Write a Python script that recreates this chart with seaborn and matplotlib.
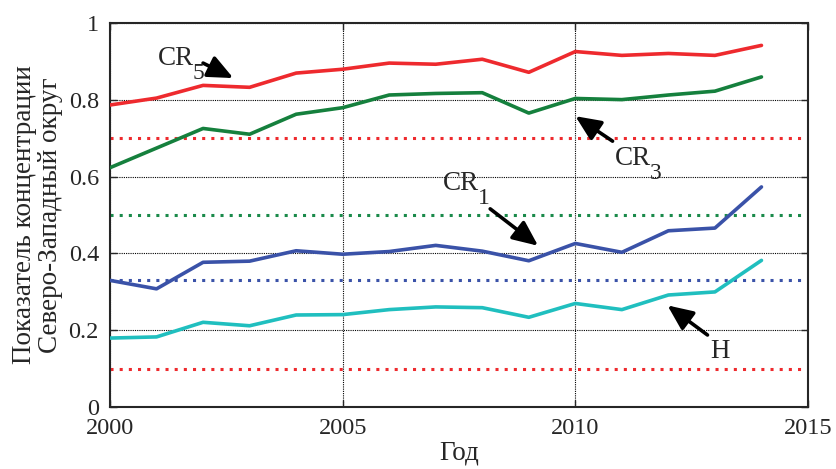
import numpy as np
import pandas as pd
import seaborn as sns
import matplotlib
matplotlib.use('Agg')
import matplotlib.pyplot as plt

# --- data ---
years = list(range(2000, 2015))
cr5 = [0.786, 0.804, 0.837, 0.832, 0.869, 0.879, 0.895, 0.892, 0.905, 0.871,
       0.925, 0.915, 0.920, 0.915, 0.941]
cr3 = [0.623, 0.674, 0.725, 0.710, 0.762, 0.779, 0.812, 0.816, 0.818, 0.765,
       0.803, 0.800, 0.812, 0.822, 0.859]
cr1 = [0.330, 0.308, 0.377, 0.380, 0.407, 0.398, 0.405, 0.421, 0.406, 0.381,
       0.426, 0.403, 0.459, 0.466, 0.573]
h_index = [0.180, 0.183, 0.221, 0.212, 0.240, 0.241, 0.254, 0.261, 0.259, 0.234,
           0.270, 0.254, 0.292, 0.300, 0.382]

# threshold levels (dotted)
thresholds = [0.7, 0.5, 0.33, 0.1]
threshold_colors = ['#ee2a2e', '#1a8a4a', '#3a52a8', '#ee2a2e']

series_names = ['CR5', 'CR3', 'CR1', 'H']
palette = {'CR5': '#ee2a2e', 'CR3': '#15803d', 'CR1': '#3a52a8', 'H': '#20bfbf'}

# label text, subscript, text anchor (year, value), arrow tail, arrow head
labels = ['CR', 'CR', 'CR', 'H']
subs = ['5', '3', '1', '']
label_pos = [(2001.03, 0.890), (2010.86, 0.630), (2007.16, 0.565), (2012.90, 0.128)]
arrow_tail = [(2002.00, 0.895), (2010.80, 0.692), (2008.17, 0.516), (2012.84, 0.188)]
arrow_head = [(2002.65, 0.856), (2010.00, 0.757), (2009.20, 0.420), (2011.98, 0.265)]

df = pd.DataFrame({'year': years, 'CR5': cr5, 'CR3': cr3, 'CR1': cr1, 'H': h_index})
df_long = df.melt(id_vars='year', value_vars=series_names,
                  var_name='series', value_name='value')

sns.set_style('ticks')
plt.rcParams['font.family'] = ['Liberation Serif', 'DejaVu Serif']
plt.rcParams['font.size'] = 17

fig = plt.figure(figsize=(8.36, 4.69), dpi=100)
ax = fig.add_axes([110 / 836, 1 - 407.3 / 469, 698 / 836, (407.3 - 22.7) / 469])

for lvl, col in zip(thresholds, threshold_colors):
    ax.axhline(lvl, color=col, lw=2.2, ls=(0, (1, 2)), zorder=2)

sns.lineplot(data=df_long, x='year', y='value', hue='series', palette=palette,
             hue_order=series_names, lw=2.6, legend=False, ax=ax, zorder=3)

ax.set_xlim(2000, 2015)
ax.set_ylim(0, 1)
ax.set_xticks([2000, 2005, 2010, 2015])
ax.set_yticks([0, 0.2, 0.4, 0.6, 0.8, 1])
ax.set_yticklabels(['0', '0.2', '0.4', '0.6', '0.8', '1'])
ax.grid(True, color='black', ls=(0, (1, 1)), lw=0.8)
ax.tick_params(direction='in', top=True, right=True, length=5, width=1,
               labelsize=17.5, pad=8)
for sp in ax.spines.values():
    sp.set_linewidth(1.5)
    sp.set_visible(True)

ax.set_xlabel('Год', fontsize=19.5, labelpad=1)
ax.set_ylabel('Показатель концентрации\nСеверо-Западный округ', fontsize=19.5,
              linespacing=1.05)
ax.yaxis.set_label_coords(-0.068, 0.5)

arrow = dict(arrowstyle='-|>,head_length=0.9,head_width=0.4', lw=2.6,
             color='black', shrinkA=0, shrinkB=0)
for lab, sub, pos, tail, head in zip(labels, subs, label_pos, arrow_tail, arrow_head):
    ax.annotate('', xy=head, xytext=tail, arrowprops=arrow)
    ax.text(pos[0], pos[1], lab, fontsize=19.5, va='baseline', ha='left')
    if sub:
        ax.annotate(sub, xy=pos, xytext=(25, -10), textcoords='offset points',
                    fontsize=17, va='baseline', ha='left')

fig.savefig('out.png', dpi=100)
